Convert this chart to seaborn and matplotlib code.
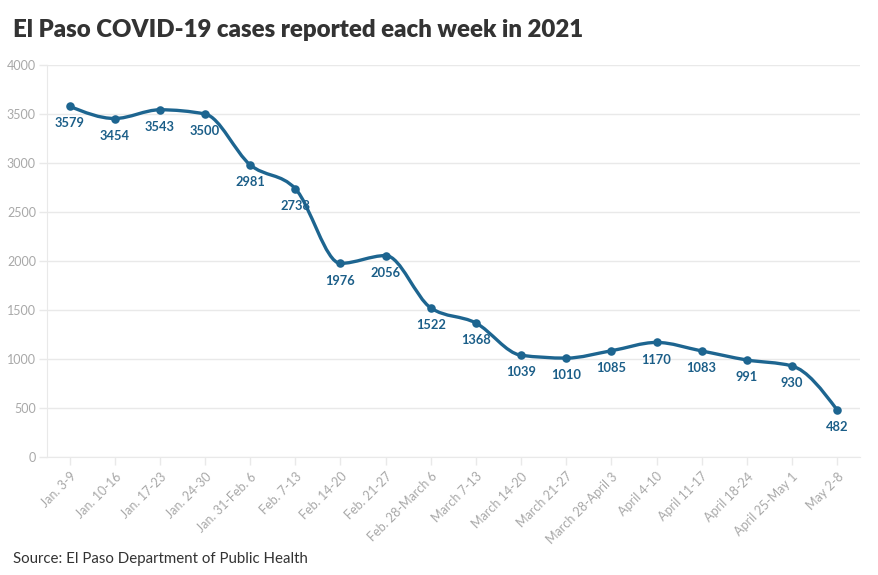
import numpy as np
import matplotlib
matplotlib.use("Agg")
import matplotlib.pyplot as plt
from matplotlib.path import Path
from matplotlib.patches import PathPatch
import seaborn as sns
import pandas as pd

weeks = ["Jan. 3-9", "Jan. 10-16", "Jan. 17-23", "Jan. 24-30", "Jan. 31-Feb. 6",
         "Feb. 7-13", "Feb. 14-20", "Feb. 21-27", "Feb. 28-March 6", "March 7-13",
         "March 14-20", "March 21-27", "March 28-April 3", "April 4-10",
         "April 11-17", "April 18-24", "April 25-May 1", "May 2-8"]
cases = [3579, 3454, 3543, 3500, 2981, 2738, 1976, 2056, 1522, 1368,
         1039, 1010, 1085, 1170, 1083, 991, 930, 482]
y_ticks = [0, 500, 1000, 1500, 2000, 2500, 3000, 3500, 4000]

df = pd.DataFrame({"week": weeks, "cases": cases})
df["pos"] = range(len(df))

line_col = "#1d6590"
label_col = "#1b5e88"
grid_col = "#e9e9e9"
tick_col = "#a8a8a8"

sns.set_style("white")
plt.rcParams["font.family"] = ["Lato", "DejaVu Sans"]

fig = plt.figure(figsize=(8.79, 5.75), dpi=100)
ax = fig.add_axes([0.0535, 0.205, 0.9245, 0.682])


# monotone cubic curve through the points (rendering only, like d3.curveMonotoneX)
def monotone_path(xs, ys):
    xs = np.asarray(xs, float)
    ys = np.asarray(ys, float)
    h = np.diff(xs)
    s = np.diff(ys) / h
    n = len(xs)
    t = np.zeros(n)
    for i in range(1, n - 1):
        if s[i - 1] * s[i] <= 0:
            t[i] = 0
        else:
            p = (s[i - 1] * h[i] + s[i] * h[i - 1]) / (h[i - 1] + h[i])
            t[i] = np.sign(s[i - 1]) * min(abs(s[i - 1]), abs(s[i]), 0.5 * abs(p)) * 2
    t[0] = (3 * s[0] - t[1]) / 2
    t[-1] = (3 * s[-1] - t[-2]) / 2
    verts = [(xs[0], ys[0])]
    codes = [Path.MOVETO]
    for i in range(n - 1):
        d = h[i] / 3
        verts += [(xs[i] + d, ys[i] + d * t[i]),
                  (xs[i + 1] - d, ys[i + 1] - d * t[i + 1]),
                  (xs[i + 1], ys[i + 1])]
        codes += [Path.CURVE4] * 3
    return Path(verts, codes)


ax.add_patch(PathPatch(monotone_path(df["pos"], df["cases"]), facecolor="none",
                       edgecolor=line_col, lw=2.4, capstyle="round", zorder=3))
sns.scatterplot(data=df, x="pos", y="cases", ax=ax, color=line_col, s=38,
                edgecolor=line_col, linewidth=0, zorder=4, legend=False)

for _, r in df.iterrows():
    ax.annotate(str(r["cases"]), (r["pos"], r["cases"]), xytext=(0, -8),
                textcoords="offset points", ha="center", va="top",
                fontsize=9.3, fontweight="bold", color=label_col, zorder=5)

ax.set_xlim(-0.5, len(weeks) - 0.5)
ax.set_ylim(0, 4000)
ax.set_yticks(y_ticks)
ax.set_yticklabels([str(v) for v in y_ticks])
ax.set_xticks(df["pos"])
ax.set_xticklabels(weeks, rotation=45, ha="right", rotation_mode="anchor")
ax.set_xlabel("")
ax.set_ylabel("")
ax.grid(axis="y", color=grid_col, lw=1)
ax.set_axisbelow(True)
for sp in ["top", "right"]:
    ax.spines[sp].set_visible(False)
ax.spines["left"].set_color(grid_col)
ax.spines["bottom"].set_color(grid_col)
ax.tick_params(axis="both", colors=grid_col, labelcolor=tick_col, labelsize=9,
               length=6, width=1, left=True, bottom=True)
ax.tick_params(axis="y", pad=2)

fig.text(0.015, 0.948, "El Paso COVID-19 cases reported each week in 2021",
         fontsize=17.3, fontweight="heavy", color="#333333", ha="left", va="center")
fig.text(0.015, 0.016, "Source: El Paso Department of Public Health",
         fontsize=10.8, color="#333333", ha="left", va="bottom")

fig.savefig("out.png", dpi=100)
